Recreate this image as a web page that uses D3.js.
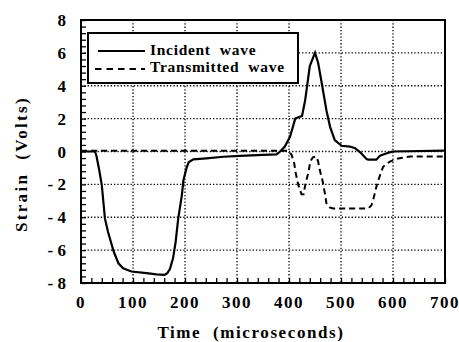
<!DOCTYPE html>
<html>
<head>
<meta charset="utf-8">
<script src="https://cdn.jsdelivr.net/npm/d3@7"></script>
<style>
  body { margin: 0; background: #fff; }
  svg text { font-weight: bold; fill: #000; white-space: pre; }
</style>
</head>
<body>
<div id="svg"></div>
<script>
// incident wave readings [time (us), strain (V)]
const incidentWave = [
  [0, 0], [27, 0], [30, -0.3], [35, -1.13], [40, -2.04], [46, -4.07], [52, -4.9],
  [63, -6.1], [72, -6.8], [81, -7.1], [97, -7.3], [126, -7.4], [145, -7.47],
  [161, -7.5], [166, -7.4], [171, -7.15], [177, -6.5], [182, -5.5], [187, -4.07],
  [194, -2.65], [197, -1.74], [203, -1.0], [207, -0.65], [216, -0.48], [241, -0.42],
  [274, -0.32], [306, -0.27], [350, -0.2], [376, -0.17], [383, 0], [392, 0.3],
  [402, 0.9], [412, 2.0], [419, 2.1], [425, 2.15], [431, 3.1], [440, 5.2], [450, 6.0],
  [456, 5.4], [463, 4.15], [472, 2.5], [479, 1.5], [488, 0.7], [501, 0.35], [517, 0.3],
  [527, 0.2], [537, -0.05], [549, -0.45], [552, -0.5], [568, -0.5], [575, -0.25],
  [584, -0.15], [594, -0.05], [600, 0], [700, 0.05]
];
// transmitted wave readings
const transmittedWave = [
  [0, 0.05], [398, 0.05], [405, -0.2], [410, -0.72], [413, -1.33], [418, -2.05],
  [424, -2.6], [428, -2.6], [432, -1.9], [437, -1.33], [441, -0.6], [446, -0.35],
  [452, -0.3], [456, -0.6], [459, -1.1], [465, -1.85], [469, -2.55], [472, -3.15],
  [478, -3.4], [485, -3.47], [552, -3.47], [558, -3.3], [561, -3.06], [568, -2.15],
  [574, -1.54], [581, -0.93], [588, -0.75], [594, -0.62], [610, -0.42], [633, -0.3],
  [700, -0.3]
];
const xTicks = [0, 100, 200, 300, 400, 500, 600, 700];
const yTicks = [-8, -6, -4, -2, 0, 2, 4, 6, 8];
const legendLabels = ["Incident  wave", "Transmitted  wave"];

const w = 459, h = 342;
const padLeft = 81, padRight = 445, padTop = 20, padBottom = 283;
const serif = "'Liberation Serif'";

const svg = d3.select("#svg").append("svg").attr("width", w).attr("height", h);

const xScale = d3.scaleLinear().domain([0, 700]).range([padLeft, padRight]);
const yScale = d3.scaleLinear().domain([-8, 8]).range([padBottom, padTop]);

// dotted grid
svg.append("g").selectAll("line").data(xTicks.slice(1, -1)).enter().append("line")
  .attr("x1", d => xScale(d)).attr("x2", d => xScale(d))
  .attr("y1", padTop).attr("y2", padBottom)
  .attr("stroke", "#000").attr("stroke-width", 1.3).attr("stroke-dasharray", "1.3,2");
svg.append("g").selectAll("line").data(yTicks.slice(1, -1)).enter().append("line")
  .attr("x1", padLeft).attr("x2", padRight)
  .attr("y1", d => yScale(d)).attr("y2", d => yScale(d))
  .attr("stroke", "#000").attr("stroke-width", 1.3).attr("stroke-dasharray", "1.3,2");

// minor ticks pointing inward
const xAxis = d3.axisTop(xScale).tickValues(d3.range(0, 701, 20)).tickSize(5).tickFormat("");
svg.append("g").attr("transform", "translate(0," + padBottom + ")").call(xAxis)
  .call(g => g.select(".domain").remove())
  .selectAll("line").attr("stroke-width", 1.3);
const yAxis = d3.axisRight(yScale).tickValues(d3.range(-8, 8.01, 0.4)).tickSize(5).tickFormat("");
svg.append("g").attr("transform", "translate(" + padLeft + ",0)").call(yAxis)
  .call(g => g.select(".domain").remove())
  .selectAll("line").attr("stroke-width", 1.3);

// tick labels
svg.append("g").selectAll("text").data(xTicks).enter().append("text")
  .attr("x", d => xScale(d)).attr("y", 308)
  .attr("text-anchor", "middle").style("font-family", serif).style("font-size", "17px").style("letter-spacing", "1.5px")
  .text(d => d);
svg.append("g").selectAll("text").data(yTicks).enter().append("text")
  .attr("x", 66).attr("y", d => yScale(d) + 6)
  .attr("text-anchor", "end").style("font-family", serif).style("font-size", "17px")
  .text(d => d < 0 ? "- " + Math.abs(d) : d);

// lines
const line = d3.line().x(d => xScale(d[0])).y(d => yScale(d[1]));
svg.append("path").datum(transmittedWave).attr("d", line)
  .attr("fill", "none").attr("stroke", "#000").attr("stroke-width", 2).attr("stroke-dasharray", "6,4");
svg.append("path").datum(incidentWave).attr("d", line)
  .attr("fill", "none").attr("stroke", "#000").attr("stroke-width", 2.2);

// frame
svg.append("rect").attr("x", padLeft).attr("y", padTop)
  .attr("width", padRight - padLeft).attr("height", padBottom - padTop)
  .attr("fill", "none").attr("stroke", "#000").attr("stroke-width", 2);

// legend
svg.append("rect").attr("x", 88).attr("y", 33).attr("width", 210).attr("height", 50)
  .attr("fill", "#fff").attr("stroke", "#000").attr("stroke-width", 2);
svg.append("line").attr("x1", 98).attr("x2", 145).attr("y1", 51).attr("y2", 51)
  .attr("stroke", "#000").attr("stroke-width", 2);
svg.append("line").attr("x1", 95).attr("x2", 145).attr("y1", 69).attr("y2", 69)
  .attr("stroke", "#000").attr("stroke-width", 2).attr("stroke-dasharray", "6.5,5");
svg.append("g").selectAll("text").data(legendLabels).enter().append("text")
  .attr("x", 150).attr("y", (d, i) => 55 + i * 17)
  .style("font-family", serif).style("font-size", "15.5px").style("letter-spacing", "0.7px")
  .text(d => d);

// axis titles
svg.append("text").attr("x", 251).attr("y", 338).attr("text-anchor", "middle")
  .style("font-family", serif).style("font-size", "17px").style("letter-spacing", "1.6px")
  .text("Time  (microseconds)");
svg.append("text").attr("transform", "translate(27,164) rotate(-90)").attr("text-anchor", "middle")
  .style("font-family", serif).style("font-size", "17px").style("letter-spacing", "2.3px")
  .text("Strain  (Volts)");
</script>
</body>
</html>
